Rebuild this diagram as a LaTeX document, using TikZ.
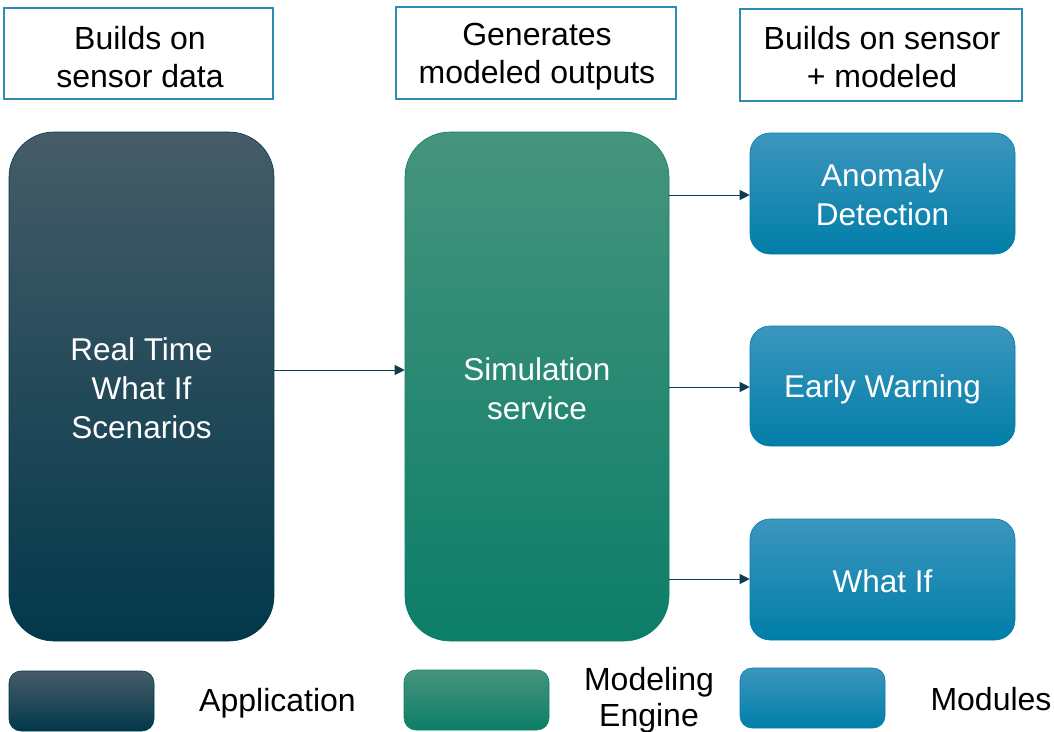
\documentclass[tikz,border=0pt]{standalone}
\usepackage{fontspec}
\setmainfont{Liberation Sans}
\usetikzlibrary{arrows.meta}
\definecolor{appTop}{RGB}{70,92,104}
\definecolor{appMid}{RGB}{4,64,84}
\definecolor{appBot}{RGB}{2,56,75}
\definecolor{engTop}{RGB}{70,148,125}
\definecolor{engMid}{RGB}{18,134,110}
\definecolor{engBot}{RGB}{12,126,104}
\definecolor{modTop}{RGB}{60,150,190}
\definecolor{modMid}{RGB}{0,136,180}
\definecolor{modBot}{RGB}{0,126,168}
\definecolor{labBorder}{RGB}{46,140,178}
\definecolor{arrowCol}{RGB}{16,60,80}
\tikzset{
  labelbox/.style={draw=labBorder, line width=1.3pt, fill=white, inner sep=0pt},
  labeltext/.style={inner sep=0pt, align=center, font=\fontsize{32}{38}\selectfont, text=black},
  appbox/.style={draw=appBot, line width=0.6pt, top color=appTop, middle color=appMid, bottom color=appBot},
  engbox/.style={draw=engBot, line width=0.6pt, top color=engTop, middle color=engMid, bottom color=engBot},
  modbox/.style={draw=modBot, line width=0.6pt, top color=modTop, middle color=modMid, bottom color=modBot},
  bigtext/.style={text=white, align=center, inner sep=0pt, font=\fontsize{31.5}{39}\selectfont},
  legtext/.style={text=black, align=center, inner sep=0pt, font=\fontsize{32}{36}\selectfont},
  conn/.style={draw=arrowCol, line width=1pt, -{Triangle[length=10pt,width=10pt]}},
}
\begin{document}
\begin{tikzpicture}[x=1pt,y=-1pt]
\useasboundingbox (0,0) rectangle (1054,731);
% top labels
\node[labelbox, minimum width=269pt, minimum height=91pt] (l1) at (138.5,53.5) {};
\node[labeltext] (l1t) at (140,57) {Builds on\\sensor data};
\node[labelbox, minimum width=280pt, minimum height=92pt] (l2) at (536,53) {};
\node[labeltext] (l2t) at (537,57) {Generates\\modeled outputs};
\node[labelbox, minimum width=282pt, minimum height=92pt] (l3) at (881,55) {};
\node[labeltext] (l3t) at (882,57) {Builds on sensor\\+ modeled};
% main boxes
\node[appbox, rounded corners=45pt, minimum width=265pt, minimum height=509pt, inner sep=0pt] (app) at (141.5,386.5) {};
\node[bigtext] (apptext) at (141.5,388) {Real Time\\What If\\Scenarios};
\node[engbox, rounded corners=45pt, minimum width=264pt, minimum height=509pt, inner sep=0pt] (eng) at (537,386.5) {};
\node[bigtext] (engtext) at (537,389) {Simulation\\service};
\node[modbox, rounded corners=20pt, minimum width=265pt, minimum height=121pt, inner sep=0pt] (m1) at (882.5,193.5) {};
\node[bigtext] (m1text) at (882.5,195) {Anomaly\\Detection};
\node[modbox, rounded corners=20pt, minimum width=265pt, minimum height=120pt, inner sep=0pt] (m2) at (882.5,386) {};
\node[bigtext] (m2text) at (882.5,389) {Early Warning};
\node[modbox, rounded corners=20pt, minimum width=265pt, minimum height=121pt, inner sep=0pt] (m3) at (882.5,579.5) {};
\node[bigtext] (m3text) at (882.5,581) {What If};
% connectors
\draw[conn] (app.east |- 0,370) -- (eng.west |- 0,370);
\draw[conn] (eng.east |- 0,195) -- (m1.west |- 0,195);
\draw[conn] (eng.east |- 0,387) -- (m2.west |- 0,387);
\draw[conn] (eng.east |- 0,579) -- (m3.west |- 0,579);
% legend
\node[appbox, rounded corners=12pt, minimum width=145pt, minimum height=60pt, inner sep=0pt] (lg1) at (81.5,701) {};
\node[legtext] (lg1t) at (277.5,703) {Application};
\node[engbox, rounded corners=12pt, minimum width=145pt, minimum height=60pt, inner sep=0pt] (lg2) at (476.5,700) {};
\node[legtext] (lg2t) at (649,700) {Modeling\\Engine};
\node[modbox, rounded corners=12pt, minimum width=145pt, minimum height=60pt, inner sep=0pt] (lg3) at (812.5,698) {};
\node[legtext] (lg3t) at (991,699) {Modules};
\end{tikzpicture}
\end{document}
